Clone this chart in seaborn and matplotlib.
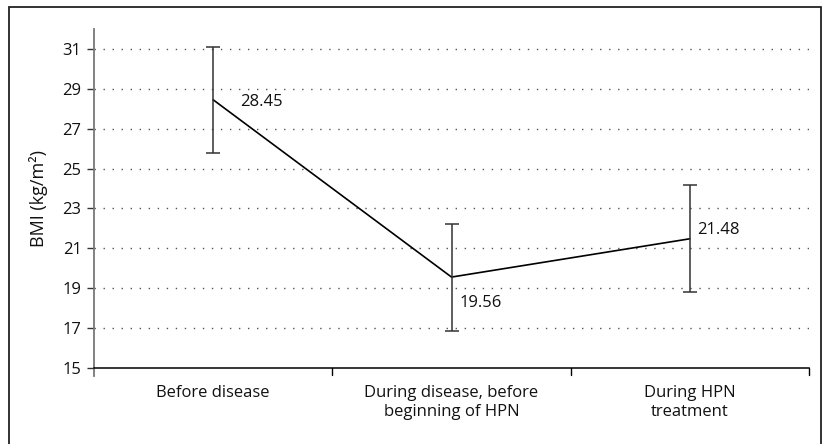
import matplotlib
matplotlib.use("Agg")
import matplotlib.pyplot as plt
import seaborn as sns
import pandas as pd
from matplotlib.patches import Rectangle

# BMI at three stages with error bars
stages = ["Before disease", "During disease, before\nbeginning of HPN", "During HPN\ntreatment"]
bmi_mean = [28.45, 19.56, 21.48]
bmi_err = [2.67, 2.68, 2.68]
y_ticks = [15, 17, 19, 21, 23, 25, 27, 29, 31]

sns.set_theme(style="white")
plt.rcParams["font.family"] = ["Open Sans", "DejaVu Sans"]

df = pd.DataFrame({"pos": range(len(stages)), "bmi": bmi_mean, "err": bmi_err})

fig = plt.figure(figsize=(8.24, 4.44), dpi=100)
ax = fig.add_axes([94 / 824, 1 - 368 / 444, (809 - 94) / 824, (368 - 29) / 444])

# outer frame
fig.patches.append(Rectangle((9 / 824, -0.05), (821 - 9) / 824, 1.05 - 7 / 444,
                             transform=fig.transFigure, fill=False,
                             edgecolor="#222222", linewidth=1.3))

for yv in y_ticks[1:]:
    ax.axhline(yv, color="#555555", linewidth=1.0, linestyle=(0, (1, 5.5)), zorder=0)

sns.lineplot(data=df, x="pos", y="bmi", ax=ax, color="black", linewidth=1.2,
             marker=None, legend=False)
ax.errorbar(df["pos"], df["bmi"], yerr=df["err"], fmt="none", ecolor="#333333",
            elinewidth=1.1, capsize=5, capthick=1.1)

offsets = [(27, -2), (8, -26), (7, 9)]
for x, y, (dx, dy) in zip(df["pos"], df["bmi"], offsets):
    ax.annotate(f"{y:.2f}", (x, y), xytext=(dx, dy), textcoords="offset pixels",
                ha="left", va="center", fontsize=12, color="#111111")

ax.set_xlim(-0.5, 2.5)
ax.set_ylim(15, 32)
ax.set_yticks(y_ticks)
ax.set_yticklabels([str(v) for v in y_ticks], fontsize=12, color="#111111")
ax.set_xticks(range(len(stages)))
ax.set_xticklabels(stages, fontsize=12, color="#111111", linespacing=1.3)
ax.tick_params(axis="x", length=0, pad=12)
ax.tick_params(axis="y", length=5, width=1, color="#333333", left=True, pad=4)
for b in [0.5, 1.5, 2.5]:
    ax.plot([b, b], [0, -0.022], transform=ax.get_xaxis_transform(), color="black",
            linewidth=1, clip_on=False)

ax.set_xlabel("")
ax.set_ylabel("BMI (kg/m²)", fontsize=13, color="#111111")
ax.yaxis.set_label_coords(-46 / 715, 0.50)

for s in ["top", "right"]:
    ax.spines[s].set_visible(False)
ax.spines["bottom"].set_color("black")
ax.spines["bottom"].set_linewidth(1.1)
ax.spines["left"].set_color("#777777")
ax.spines["left"].set_linewidth(1.3)
ax.spines["left"].set_bounds(14.6, 32)

fig.savefig("out.png", dpi=100, facecolor="white")
